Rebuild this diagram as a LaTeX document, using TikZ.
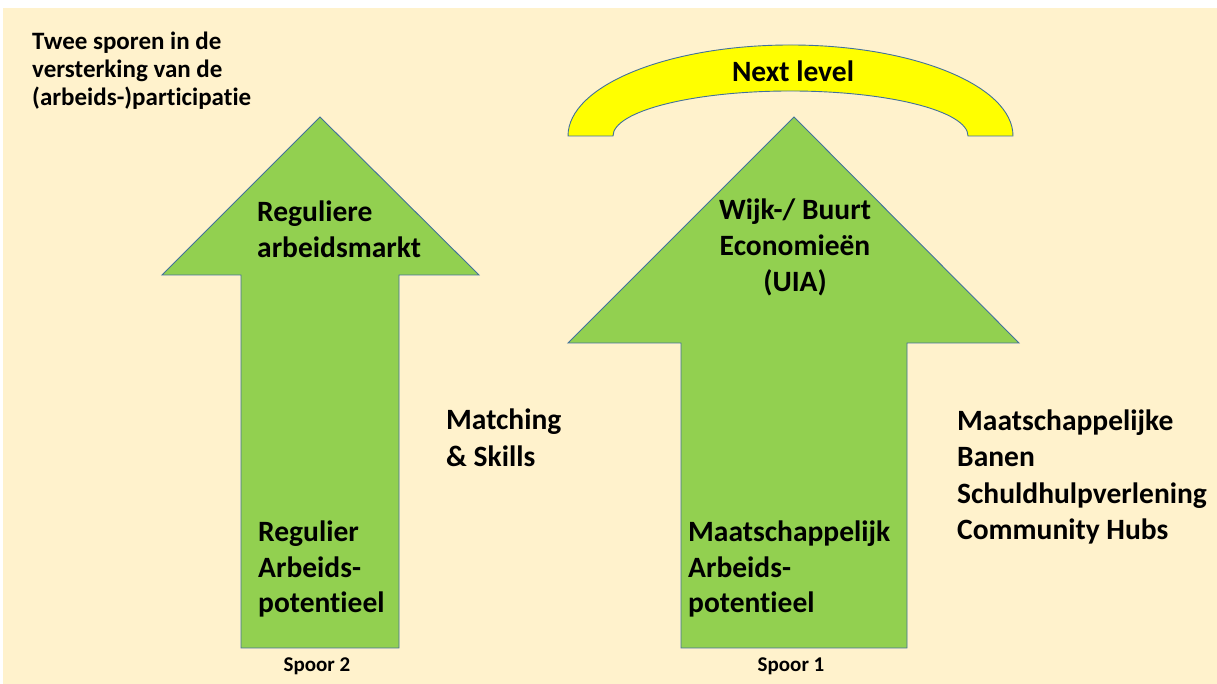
\documentclass[tikz,border=0pt]{standalone}
\usepackage{fontspec}
\setmainfont{Carlito}[Ligatures={NoCommon}]
\definecolor{cream}{HTML}{FFF2CC}
\definecolor{leaf}{HTML}{92D050}
\definecolor{edge}{HTML}{41719C}
\definecolor{sun}{HTML}{FFFF00}
\tikzset{
  arrowshape/.style={fill=leaf, draw=edge, line width=0.9pt, line join=miter},
  archshape/.style={fill=sun, draw=edge, line width=0.9pt},
  bigtxt/.style={font=\fontsize{29.5}{36.5}\selectfont\bfseries, inner sep=0pt, align=left, anchor=base west},
  bigctr/.style={font=\fontsize{29.5}{36}\selectfont\bfseries, inner sep=0pt, align=center, anchor=base},
  titletxt/.style={font=\fontsize{25}{28}\selectfont\bfseries, inner sep=0pt, align=left, anchor=base west},
  smalltxt/.style={font=\fontsize{21}{24}\selectfont\bfseries, inner sep=0pt, anchor=base},
}
\begin{document}
\begin{tikzpicture}[x=1pt,y=1pt]
\useasboundingbox (0,0) rectangle (1217,684);
\fill[white] (0,0) rectangle (1217,684);
\fill[cream] (3,0) rectangle (1217,676);
% left arrow (Spoor 2)
\draw[arrowshape] (320,567) -- (479,409) -- (399,409) -- (399,36) -- (241,36) -- (241,409) -- (162,409) -- cycle;
% right arrow (Spoor 1)
\draw[arrowshape] (794,567) -- (1019,341) -- (907,341) -- (907,36) -- (681,36) -- (681,341) -- (568,341) -- cycle;
% block arc
\draw[archshape] (568,548) arc[start angle=180, end angle=0, x radius=222.5, y radius=91]
  -- (968,548) arc[start angle=0, end angle=180, x radius=177.5, y radius=45] -- cycle;
\node[bigctr] (next) at (793,602) {Next level};
\node[titletxt] (title) at (32,578) {Twee sporen in de\\versterking van de\\(arbeids-)participatie};
\node[bigtxt, font=\fontsize{29.5}{36}\selectfont\bfseries] (regmarkt) at (257,426) {Reguliere\\arbeidsmarkt};
\node[bigctr] (wijk) at (795,392) {Wijk-/ Buurt\\Economieën\\(UIA)};
\node[bigtxt, font=\fontsize{29.5}{37}\selectfont\bfseries] (match) at (446,217) {Matching\\\& Skills};
\node[bigtxt] (maat) at (957,144) {Maatschappelijke\\Banen\\Schuldhulpverlening\\Community Hubs};
\node[bigtxt, font=\fontsize{29.5}{35.5}\selectfont\bfseries] (regpot) at (258,71) {Regulier\\Arbeids-\\potentieel};
\node[bigtxt, font=\fontsize{29.5}{35.5}\selectfont\bfseries] (maatpot) at (688,71) {Maatschappelijk\\Arbeids-\\potentieel};
\node[smalltxt] (spoor2) at (317,12) {Spoor 2};
\node[smalltxt] (spoor1) at (791,12) {Spoor 1};
\end{tikzpicture}
\end{document}
